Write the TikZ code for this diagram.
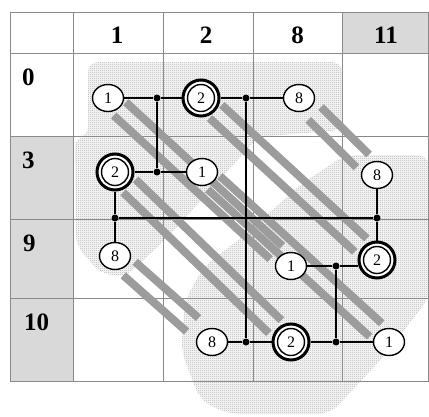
\documentclass[tikz,border=0pt]{standalone}
\usepackage{fontspec}
\setmainfont{Liberation Serif}
\usetikzlibrary{shapes.geometric,calc,patterns.meta}
\pgfdeclarelayer{bg}
\pgfdeclarelayer{bars}
\pgfsetlayers{bg,bars,main}
\tikzdeclarepattern{
  name=stip,
  type=uncolored,
  bottom left={(0pt,0pt)},
  top right={(2pt,2pt)},
  tile size={(2pt,2pt)},
  code={
    \fill (0pt,0pt) rectangle (1pt,1pt);
    \fill (1pt,1pt) rectangle (2pt,2pt);
  }
}
\definecolor{hgray}{HTML}{D9D9D9}
\definecolor{tgray}{HTML}{8A8A8A}
\newcommand\barpair[4]{%
  \draw[bar] ($(#1)!#3!(#2)!9pt!90:(#2)$) -- ($(#2)!#4!(#1)!9pt!-90:(#1)$);
  \draw[bar] ($(#1)!#3!(#2)!9pt!-90:(#2)$) -- ($(#2)!#4!(#1)!9pt!90:(#1)$);}
\begin{document}
\begin{tikzpicture}[x=1pt,y=-1pt,
  single/.style={ellipse, draw, line width=1.4pt, fill=white, minimum width=31pt,
    minimum height=27pt, inner sep=0pt, font=\fontsize{16}{16}\selectfont},
  dbl/.style={circle, draw, line width=3pt, fill=white, minimum size=36pt, inner sep=0pt,
    font=\fontsize{16}{16}\selectfont,
    path picture={\draw[line width=1.4pt] (path picture bounding box.center) circle (13.5pt);}},
  jn/.style={circle, fill=black, inner sep=0pt, minimum size=7pt},
  wire/.style={line width=2pt},
  bar/.style={line width=8pt, draw=gray!78, line cap=butt},
  tline/.style={draw=tgray, line width=0.9pt},
  hdr/.style={font=\fontsize{25}{25}\selectfont\bfseries, inner sep=0pt, anchor=base},
  rowlab/.style={font=\fontsize{25}{25}\selectfont\bfseries, inner sep=0pt, anchor=base west},
  blob/.style={pattern={stip}, pattern color=gray!85}
]
\useasboundingbox (0,0) rectangle (429,416);
\begin{pgfonlayer}{bg}
\fill[white] (0,0) rectangle (429,416);
\fill[hgray] (342,12) rectangle (429,53);
\fill[hgray] (10,136) rectangle (73,381);
% stippled regions
\path[blob, rounded corners=10pt] (88,62) -- (342,62) -- (342,130) -- (258,137)
  -- (215,185) -- (165,240) -- (125,277) -- (100,273) -- (76,245) -- (75,137)
  -- (88,137) -- cycle;
\path[blob, rounded corners=12pt] (345,155) -- (429,155) -- (429,298) -- (385,355)
  -- (330,414) -- (228,414) -- (200,400) -- (181,350) -- (185,300) -- (205,265)
  -- (245,235) -- (300,185) -- cycle;
% table
\draw[tline] (10,12) rectangle (428.5,381);
\foreach \x in {73,163,253,342} \draw[tline] (\x,12) -- (\x,381);
\foreach \y in {53,136,219,298} \draw[tline] (10,\y) -- (428.5,\y);
\end{pgfonlayer}
% headers
\node[hdr] (h1) at (117,43) {1};
\node[hdr] (h2) at (206,43) {2};
\node[hdr] (h8) at (297.5,43) {8};
\node[hdr] (h11) at (386,43) {11};
\node[rowlab] (r0) at (22,85) {0};
\node[rowlab] (r3) at (22,168.5) {3};
\node[rowlab] (r9) at (23,251.5) {9};
\node[rowlab] (r10) at (24,330.5) {10};
% nodes
\node[single] (n1a) at (108,98) {1};
\node[dbl]    (n2a) at (201,98) {2};
\node[single] (n8a) at (299,98) {8};
\node[dbl]    (n2b) at (115,172) {2};
\node[single] (n1b) at (202,172) {1};
\node[single] (n8b) at (377,175) {8};
\node[single] (n8c) at (115,256) {8};
\node[single] (n1c) at (291,266) {1};
\node[dbl]    (n2c) at (377,260) {2};
\node[single] (n8d) at (212,342) {8};
\node[dbl]    (n2d) at (291,342) {2};
\node[single] (n1d) at (389,342) {1};
% junctions
\node[jn] (d1) at (157,98) {};
\node[jn] (d2) at (246,98) {};
\node[jn] (d3) at (157,172) {};
\node[jn] (d4) at (115,218) {};
\node[jn] (d5) at (377,218) {};
\node[jn] (d6) at (336,266) {};
\node[jn] (d7) at (336,342) {};
\node[jn] (d8) at (246,342) {};
% wires
\draw[wire] (n1a) -- (d1) -- (n2a) -- (d2) -- (n8a);
\draw[wire] (d1) -- (d3);
\draw[wire] (n2b) -- (d3) -- (n1b);
\draw[wire] (n2b) -- (d4) -- (n8c);
\draw[wire] (d4) -- (d5);
\draw[wire] (n8b) -- (d5) -- (n2c);
\draw[wire] (d2) -- (d8);
\draw[wire] (n1c) -- (d6) -- (d6 -| n2c.west);
\draw[wire] (d6) -- (d7);
\draw[wire] (n8d) -- (d8) -- (n2d) -- (d7) -- (n1d);
% bars
\begin{pgfonlayer}{bars}
\barpair{n1a}{n1c}{16pt}{20pt}
\barpair{n2a}{n2c}{20pt}{22pt}
\barpair{n2b}{n2d}{20pt}{22pt}
\barpair{n1b}{n1d}{16pt}{18pt}
\barpair{n8a}{n8b}{22pt}{20pt}
\barpair{n8c}{n8d}{19pt}{26pt}
\end{pgfonlayer}
\end{tikzpicture}
\end{document}
